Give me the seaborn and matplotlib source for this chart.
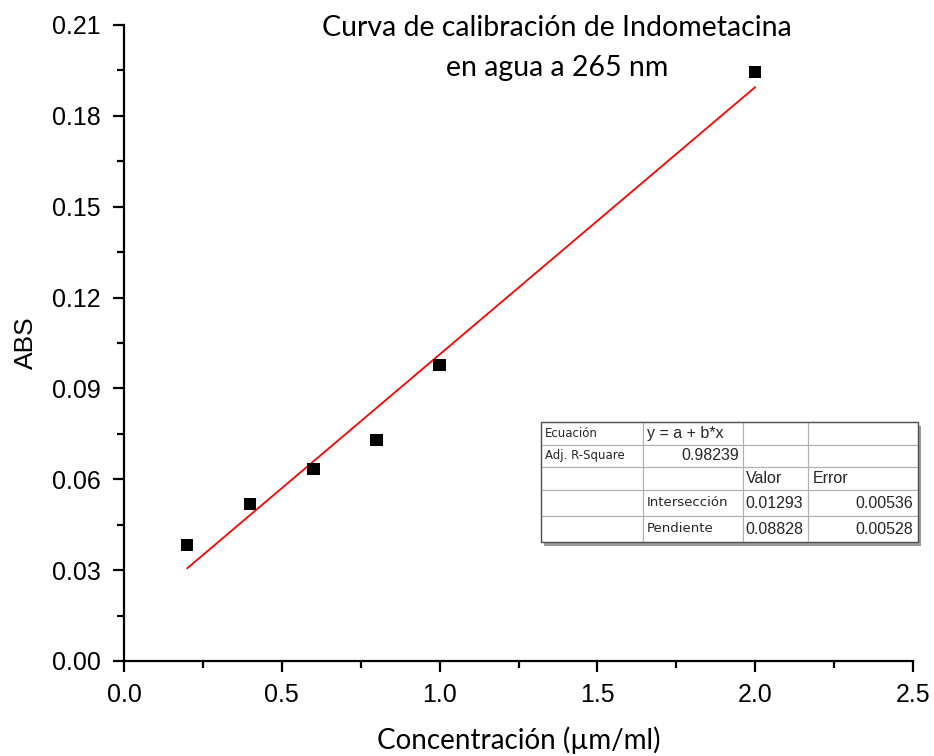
import numpy as np
import pandas as pd
import matplotlib
matplotlib.use("Agg")
import matplotlib.pyplot as plt
from matplotlib.ticker import MultipleLocator, FormatStrFormatter
import seaborn as sns

# Calibration data
concentracion = [0.2, 0.4, 0.6, 0.8, 1.0, 2.0]
absorbancia = [0.0383, 0.0518, 0.0634, 0.0730, 0.0977, 0.1945]

# Linear fit parameters
interseccion = 0.01293
pendiente = 0.08828
err_interseccion = 0.00536
err_pendiente = 0.00528
adj_r2 = 0.98239

sns.set_theme(style="white")
plt.rcParams["font.family"] = ["Liberation Sans", "DejaVu Sans"]

fig = plt.figure(figsize=(9.34, 7.56), dpi=100)
ax = fig.add_axes([124 / 934, 1 - 661 / 756, 789 / 934, 636 / 756])

df = pd.DataFrame({"x": concentracion, "y": absorbancia})
fit_x = np.array([min(concentracion), max(concentracion)])
fit = pd.DataFrame({"x": fit_x, "y": interseccion + pendiente * fit_x})

sns.lineplot(data=fit, x="x", y="y", color="#ff0000", linewidth=1.3, ax=ax, zorder=2)
sns.scatterplot(data=df, x="x", y="y", marker="s", s=80, color="black",
                edgecolor="none", ax=ax, zorder=3)

ax.set_xlim(0, 2.5)
ax.set_ylim(0, 0.21)
ax.xaxis.set_major_locator(MultipleLocator(0.5))
ax.xaxis.set_minor_locator(MultipleLocator(0.25))
ax.yaxis.set_major_locator(MultipleLocator(0.03))
ax.yaxis.set_minor_locator(MultipleLocator(0.015))
ax.xaxis.set_major_formatter(FormatStrFormatter("%.1f"))
ax.yaxis.set_major_formatter(FormatStrFormatter("%.2f"))

for side in ("top", "right"):
    ax.spines[side].set_visible(False)
for side in ("left", "bottom"):
    ax.spines[side].set_color("black")
    ax.spines[side].set_linewidth(1.6)

ax.tick_params(which="major", direction="out", length=8, width=1.6,
               color="black", labelsize=18, pad=9, left=True, bottom=True,
               labelcolor="black")
ax.tick_params(which="minor", direction="out", length=5, width=1.6,
               color="black", left=True, bottom=True)
ax.tick_params(axis="x", pad=8)

title_font = ["Lato", "DejaVu Sans"]
ax.set_xlabel("Concentración (µm/ml)", fontsize=20, family=title_font,
              labelpad=14, color="black")
ax.set_ylabel("ABS", fontsize=19, labelpad=10, color="black")

fig.text(557 / 934, 1 - 28 / 756, "Curva de calibración de Indometacina",
         ha="center", va="center", fontsize=20.5, family=title_font, color="black")
fig.text(557 / 934, 1 - 68 / 756, "en agua a 265 nm",
         ha="center", va="center", fontsize=20.5, family=title_font, color="black")

# Fit statistics table
cells = [
    ["Ecuación", "y = a + b*x", "", ""],
    ["Adj. R-Square", f"{adj_r2:.5f}", "", ""],
    ["", "", "Valor", "Error"],
    ["", "Intersección", f"{interseccion:.5f}", f"{err_interseccion:.5f}"],
    ["", "Pendiente", f"{pendiente:.5f}", f"{err_pendiente:.5f}"],
]
col_px = np.array([102, 100, 65, 110])
row_px = np.array([23, 22, 23, 26, 26])
tx0, ty0 = (541 - 124) / 789, (661 - 542) / 636
tw, th = col_px.sum() / 789, row_px.sum() / 636

# drop shadow
shadow = plt.Rectangle((tx0 + 0.004, ty0 - 0.006), tw, th, transform=ax.transAxes,
                       facecolor="#9a9a9a", edgecolor="none", zorder=4, clip_on=False)
ax.add_patch(shadow)

tbl = ax.table(cellText=cells, colWidths=list(col_px / col_px.sum()),
               bbox=[tx0, ty0, tw, th], cellLoc="left", zorder=5)
tbl.auto_set_font_size(False)
for (r, c), cell in tbl.get_celld().items():
    cell.set_height(row_px[r] / row_px.sum())
    cell.set_edgecolor("#b0b0b0")
    cell.set_linewidth(0.8)
    cell.set_facecolor("white")
    txt = cell.get_text()
    cell.PAD = 0.04
    if (r == 1 and c == 1) or (r >= 3 and c == 3):
        txt.set_ha("right")
        cell._loc = "right"
    if c == 0:
        txt.set_family(["DejaVu Sans"])
        txt.set_fontsize(8.5)
    elif c == 1 and r >= 3:
        txt.set_family(["DejaVu Sans"])
        txt.set_fontsize(9.5)
    else:
        txt.set_family(["Liberation Sans", "DejaVu Sans"])
        txt.set_fontsize(11.5)

border = plt.Rectangle((tx0, ty0), tw, th, transform=ax.transAxes, fill=False,
                       edgecolor="#505050", linewidth=1.0, zorder=6, clip_on=False)
ax.add_patch(border)

fig.savefig("out.png", dpi=100, facecolor="white")
